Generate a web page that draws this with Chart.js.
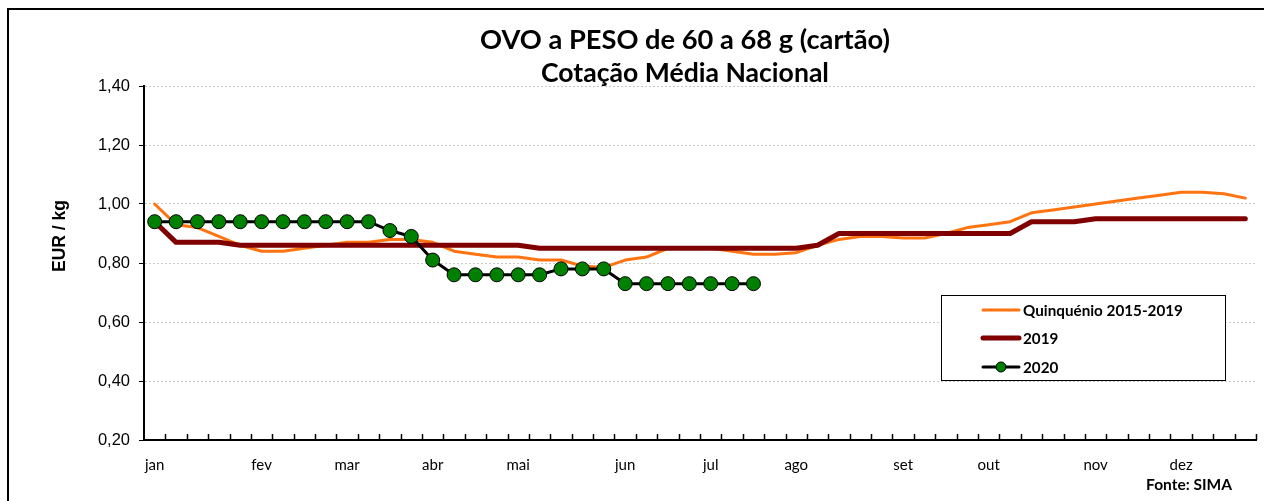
<!DOCTYPE html>
<html>
<head>
<meta charset="utf-8">
<script src="https://cdn.jsdelivr.net/npm/chart.js@4"></script>
<style>
  body { margin: 0; background: #fff; }
  #caixa { width: 1264px; height: 501px; position: relative; }
</style>
</head>
<body>
<div id="caixa"><canvas id="grafico"></canvas></div>
<script>
// semanas do ano, so algumas levam o nome do mes
const semanas = ['jan','','','','','fev','','','','mar','','','','abr','','','','mai','','','','',
  'jun','','','','jul','','','','ago','','','','','set','','','','out','','','','',
  'nov','','','','dez','','',''];

const quinquenio = [1.00, 0.93, 0.92, 0.89, 0.86, 0.84, 0.84, 0.85, 0.86, 0.87, 0.87, 0.88, 0.88,
  0.87, 0.84, 0.83, 0.82, 0.82, 0.81, 0.81, 0.79, 0.785, 0.81, 0.82, 0.85, 0.85, 0.85, 0.84,
  0.83, 0.83, 0.835, 0.86, 0.88, 0.89, 0.89, 0.885, 0.885, 0.90, 0.92, 0.93, 0.94, 0.97,
  0.98, 0.99, 1.00, 1.01, 1.02, 1.03, 1.04, 1.04, 1.035, 1.02];

const ano2019 = [0.94, 0.87, 0.87, 0.87, 0.86, 0.86, 0.86, 0.86, 0.86, 0.86, 0.86, 0.86, 0.86,
  0.86, 0.86, 0.86, 0.86, 0.86, 0.85, 0.85, 0.85, 0.85, 0.85, 0.85, 0.85, 0.85, 0.85, 0.85,
  0.85, 0.85, 0.85, 0.86, 0.90, 0.90, 0.90, 0.90, 0.90, 0.90, 0.90, 0.90, 0.90, 0.94,
  0.94, 0.94, 0.95, 0.95, 0.95, 0.95, 0.95, 0.95, 0.95, 0.95];

const ano2020 = [0.94, 0.94, 0.94, 0.94, 0.94, 0.94, 0.94, 0.94, 0.94, 0.94, 0.94, 0.91, 0.89,
  0.81, 0.76, 0.76, 0.76, 0.76, 0.76, 0.78, 0.78, 0.78, 0.73, 0.73, 0.73, 0.73, 0.73, 0.73, 0.73];

const ticksY = [0.20, 0.40, 0.60, 0.80, 1.00, 1.20, 1.40];

const corQuinq = '#FF7410';
const cor2019 = '#800000';
const corVerde = '#008000';

// acha o tamanho de letra que da a largura pedida
function ajustarFonte(c, texto, largura, familia) {
  c.font = 'bold 20px ' + familia;
  const tam = 20 * largura / c.measureText(texto).width;
  c.font = 'bold ' + tam.toFixed(2) + 'px ' + familia;
}

// textos, moldura, legenda e tracinhos do eixo x
const extras = {
  id: 'extras',
  afterDraw(chart) {
    const c = chart.ctx;
    const area = chart.chartArea;
    c.save();

    // moldura
    c.strokeStyle = '#000';
    c.lineWidth = 2;
    c.strokeRect(8, 9, 1270, 510);

    // titulos
    c.fillStyle = '#000';
    c.textAlign = 'center';
    c.textBaseline = 'middle';
    ajustarFonte(c, 'OVO a PESO de 60 a 68 g (cartão)', 410, 'Lato');
    c.fillText('OVO a PESO de 60 a 68 g (cartão)', 685, 40);
    ajustarFonte(c, 'Cotação Média Nacional', 288, 'Lato');
    c.fillText('Cotação Média Nacional', 685, 73);

    // titulo do eixo y
    c.save();
    c.translate(60, 236);
    c.rotate(-Math.PI / 2);
    ajustarFonte(c, 'EUR / kg', 72, '"Liberation Sans"');
    c.fillText('EUR / kg', 0, 0);
    c.restore();

    // tracinhos do eixo x (entre semanas, para dentro)
    const passo = (area.right - area.left) / semanas.length;
    c.lineWidth = 1.5;
    c.beginPath();
    for (let i = 1; i <= semanas.length; i++) {
      const x = Math.round(area.left + i * passo) + 0.5;
      c.moveTo(x, area.bottom);
      c.lineTo(x, area.bottom - 6);
    }
    c.stroke();

    // fonte
    c.textAlign = 'right';
    ajustarFonte(c, 'Fonte: SIMA', 86, 'Lato');
    c.fillText('Fonte: SIMA', 1232, 485);

    // legenda
    c.fillStyle = '#fff';
    c.fillRect(941, 295, 285, 86);
    c.strokeStyle = '#000';
    c.lineWidth = 1;
    c.strokeRect(941.5, 295.5, 284, 85);

    const itens = [
      { nome: 'Quinquénio 2015-2019', cor: corQuinq, largura: 3, y: 310 },
      { nome: '2019', cor: cor2019, largura: 5, y: 338 },
      { nome: '2020', cor: '#000', largura: 3, y: 367, ponto: true }
    ];
    ajustarFonte(c, 'Quinquénio 2015-2019', 160, 'Lato');
    c.textAlign = 'left';
    itens.forEach(it => {
      c.strokeStyle = it.cor;
      c.lineWidth = it.largura;
      c.lineCap = 'round';
      c.beginPath();
      c.moveTo(983, it.y);
      c.lineTo(1019, it.y);
      c.stroke();
      if (it.ponto) {
        c.fillStyle = corVerde;
        c.lineWidth = 1;
        c.beginPath();
        c.arc(1001, it.y, 5, 0, Math.PI * 2);
        c.fill();
        c.stroke();
      }
      c.fillStyle = '#000';
      c.fillText(it.nome, 1023, it.y + 1);
    });

    c.restore();
  }
};

new Chart(document.getElementById('grafico'), {
  type: 'line',
  data: {
    labels: semanas,
    datasets: [
      {
        label: 'Quinquénio 2015-2019',
        data: quinquenio,
        borderColor: corQuinq,
        borderWidth: 3,
        pointRadius: 0,
        tension: 0,
        order: 3
      },
      {
        label: '2019',
        data: ano2019,
        borderColor: cor2019,
        borderWidth: 5,
        pointRadius: 0,
        tension: 0,
        order: 2
      },
      {
        label: '2020',
        data: ano2020,
        borderColor: '#000',
        borderWidth: 3,
        pointRadius: 7,
        pointBackgroundColor: corVerde,
        pointBorderColor: '#000',
        pointBorderWidth: 1,
        tension: 0,
        order: 1
      }
    ]
  },
  options: {
    responsive: true,
    maintainAspectRatio: false,
    animation: false,
    layout: { padding: { top: 86, right: 6, left: 0, bottom: 0 } },
    plugins: {
      legend: { display: false },
      tooltip: { enabled: false }
    },
    elements: { line: { borderJoinStyle: 'round', borderCapStyle: 'round' } },
    scales: {
      x: {
        offset: true,
        afterFit: s => { s.height = 61; },
        grid: { display: false },
        border: { display: true, color: '#000', width: 2 },
        ticks: {
          autoSkip: false,
          maxRotation: 0,
          padding: 8,
          color: '#000',
          font: { family: 'Lato', size: 15 }
        }
      },
      y: {
        min: 0.2,
        max: 1.4,
        afterFit: s => { s.width = 144; },
        afterBuildTicks: s => { s.ticks = ticksY.map(v => ({ value: v })); },
        grid: { color: '#c8c8c8', tickColor: '#000', tickLength: 5, tickBorderDash: [] },
        border: { display: true, color: '#000', width: 2, dash: [2, 2] },
        ticks: {
          padding: 9,
          color: '#000',
          font: { family: 'Liberation Sans', size: 16.5 },
          callback: v => v.toFixed(2).replace('.', ',')
        }
      }
    }
  },
  plugins: [extras]
});
</script>
</body>
</html>
